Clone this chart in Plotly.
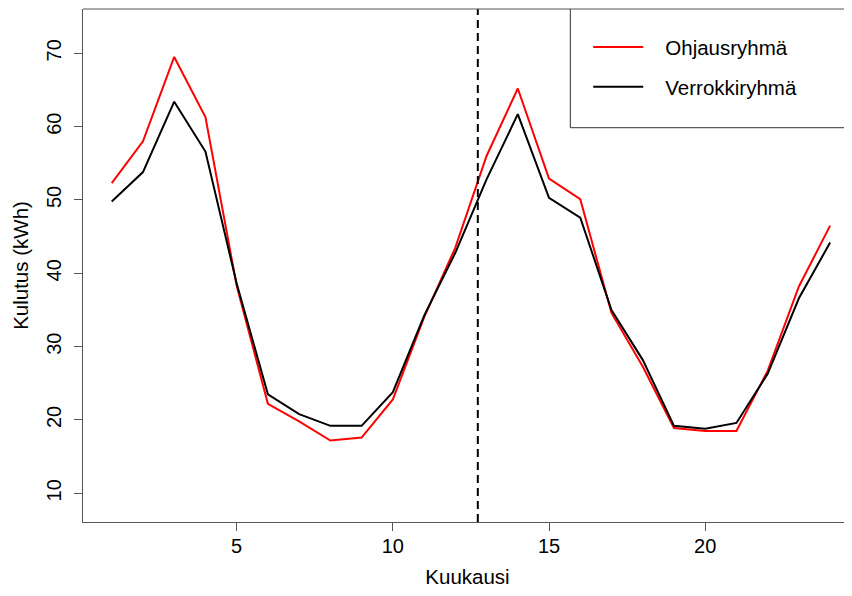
import plotly.graph_objects as go

months = list(range(1, 25))
ohjausryhma = [52.3, 58.0, 69.5, 61.3, 38.3, 22.2, 19.8, 17.2, 17.6, 22.8,
               34.0, 43.5, 56.0, 65.2, 52.9, 50.1, 34.6, 27.3, 18.9, 18.5,
               18.5, 26.7, 38.2, 46.5]
verrokkiryhma = [49.8, 53.8, 63.4, 56.6, 38.6, 23.5, 20.8, 19.2, 19.2, 23.8,
                 34.2, 42.8, 52.8, 61.7, 50.3, 47.6, 35.0, 28.2, 19.2, 18.8,
                 19.6, 26.3, 36.6, 44.2]
intervention_month = 12.72
x_ticks = [5, 10, 15, 20]
y_ticks = [10, 20, 30, 40, 50, 60, 70]

FONT = "Liberation Sans, Arial, sans-serif"
AXIS_COLOR = "#555555"
PAD = "\u00a0\u00a0\u00a0"

fig = go.Figure()
fig.add_trace(go.Scatter(x=months, y=ohjausryhma, mode="lines", name=PAD + "Ohjausryhmä",
                         legendgroup="a", line=dict(color="#ff0000", width=2)))
fig.add_trace(go.Scatter(x=months, y=verrokkiryhma, mode="lines", name=PAD + "Verrokkiryhmä",
                         legendgroup="b", line=dict(color="#000000", width=2)))

fig.add_vline(x=intervention_month, line=dict(color="black", width=2, dash="8px,5px"))

# top border of plot box (right side lies outside the picture)
fig.add_shape(type="line", xref="paper", yref="paper", x0=0, x1=1, y0=1, y1=1,
              line=dict(color=AXIS_COLOR, width=1))
# legend frame (left and bottom sides visible)
fig.add_shape(type="path", xref="paper", yref="paper",
              path="M 0.6337,1 L 0.6337,0.7686 L 1.01,0.7686",
              line=dict(color="#333333", width=1))

# the page body adds an 8px margin, so the figure is made smaller to fit the window
fig.update_layout(
    width=844, height=580,
    margin=dict(l=75, r=0, t=1, b=66, autoexpand=False),
    paper_bgcolor="white", plot_bgcolor="white",
    font=dict(family=FONT, size=20, color="black"),
    showlegend=True,
    legend=dict(x=0.657, y=0.9645, xanchor="left", yanchor="top",
                bgcolor="rgba(0,0,0,0)", borderwidth=0,
                font=dict(family=FONT, size=20.5, color="black"),
                tracegroupgap=10, itemwidth=50),
    xaxis=dict(range=[0.08, 24.70], tickmode="array", tickvals=x_ticks,
               showline=True, linecolor=AXIS_COLOR, linewidth=1,
               ticks="outside", ticklen=8, tickcolor=AXIS_COLOR,
               showgrid=False, zeroline=False, automargin=False,
               ticklabelstandoff=-2,
               tickfont=dict(family=FONT, size=20),
               title=dict(text="Kuukausi", font=dict(family=FONT, size=20.5), standoff=14)),
    yaxis=dict(range=[6.09, 76.04], tickmode="array", tickvals=y_ticks,
               showline=True, linecolor=AXIS_COLOR, linewidth=1,
               ticks="outside", ticklen=8, tickcolor=AXIS_COLOR, tickangle=-90,
               showgrid=False, zeroline=False, automargin=False,
               ticklabelstandoff=5,
               tickfont=dict(family=FONT, size=20),
               title=dict(text="Kulutus (kWh)", font=dict(family=FONT, size=20.5), standoff=8)),
)

fig.write_html("out.html")
